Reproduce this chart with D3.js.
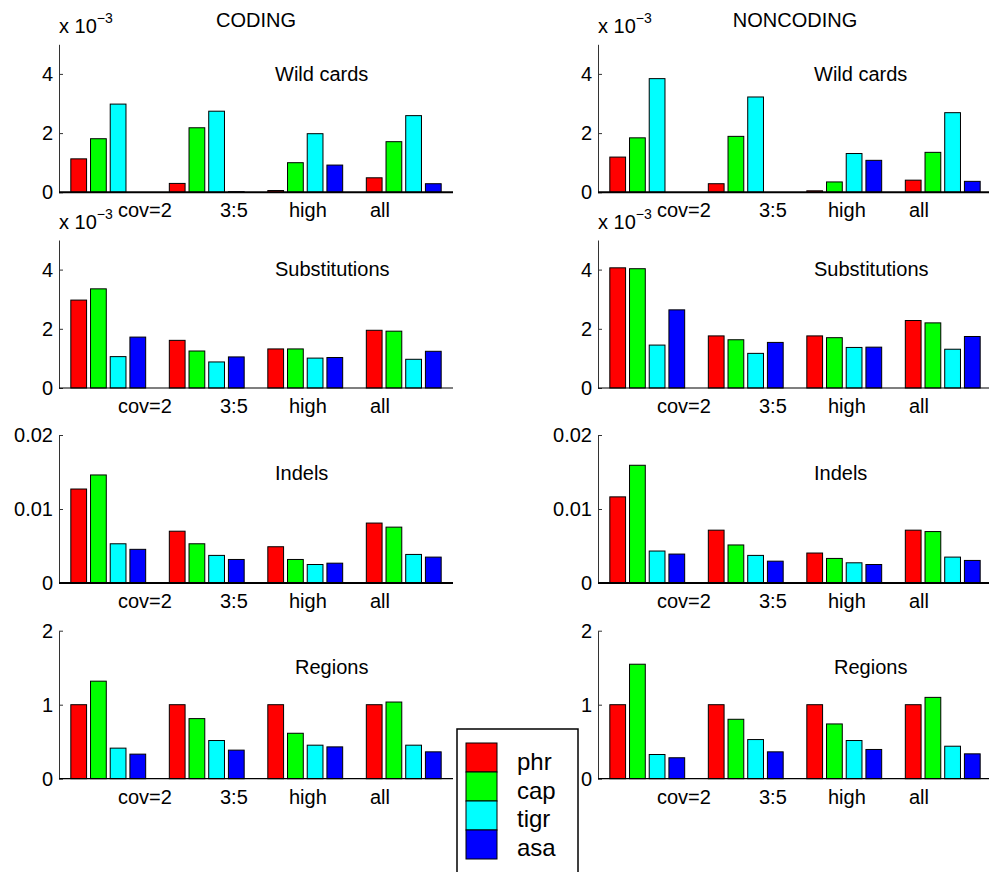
<!DOCTYPE html>
<html>
<head>
<meta charset="utf-8">
<script src="https://cdn.jsdelivr.net/npm/d3@7"></script>
<style>
  body { margin: 0; background: #fff; }
  svg { display: block; font-family: "Liberation Sans", Arial, Helvetica, sans-serif; }
</style>
</head>
<body>
<svg id="chart" width="989" height="872"></svg>
<script>
// ---- data ----
const groups = ["cov=2", "3:5", "high", "all"];
const series = ["phr", "cap", "tigr", "asa"];
const columns = ["CODING", "NONCODING"];
const panelTitles = ["Wild cards", "Substitutions", "Indels", "Regions"];

// one row per group, values for phr, cap, tigr, asa
const codingWild = [[1.13e-3, 1.81e-3, 2.98e-3, 0], [0.30e-3, 2.18e-3, 2.74e-3, 0.02e-3],
                    [0.06e-3, 1.00e-3, 1.98e-3, 0.92e-3], [0.49e-3, 1.71e-3, 2.59e-3, 0.29e-3]];
const noncodingWild = [[1.19e-3, 1.84e-3, 3.84e-3, 0], [0.29e-3, 1.89e-3, 3.22e-3, 0],
                       [0.05e-3, 0.35e-3, 1.31e-3, 1.08e-3], [0.41e-3, 1.35e-3, 2.69e-3, 0.37e-3]];
const codingSubst = [[2.97e-3, 3.35e-3, 1.06e-3, 1.72e-3], [1.61e-3, 1.25e-3, 0.88e-3, 1.05e-3],
                     [1.32e-3, 1.32e-3, 1.01e-3, 1.03e-3], [1.95e-3, 1.92e-3, 0.97e-3, 1.24e-3]];
const noncodingSubst = [[4.06e-3, 4.03e-3, 1.45e-3, 2.64e-3], [1.76e-3, 1.63e-3, 1.17e-3, 1.54e-3],
                        [1.76e-3, 1.70e-3, 1.37e-3, 1.38e-3], [2.28e-3, 2.20e-3, 1.31e-3, 1.74e-3]];
const codingIndels = [[0.0127, 0.0146, 0.0053, 0.00455], [0.0070, 0.0053, 0.00373, 0.00318],
                      [0.0049, 0.00318, 0.0025, 0.00268], [0.0081, 0.00755, 0.00386, 0.0035]];
const noncodingIndels = [[0.01164, 0.01591, 0.00432, 0.00391], [0.00714, 0.00514, 0.00373, 0.00295],
                         [0.00405, 0.00332, 0.00273, 0.0025], [0.00714, 0.00695, 0.0035, 0.00305]];
const codingRegions = [[1, 1.318, 0.413, 0.332], [1, 0.812, 0.516, 0.386],
                       [1, 0.614, 0.453, 0.43], [1, 1.036, 0.453, 0.363]];
const noncodingRegions = [[1, 1.547, 0.327, 0.283], [1, 0.803, 0.529, 0.363],
                          [1, 0.74, 0.516, 0.395], [1, 1.099, 0.439, 0.336]];

const yMax = [5e-3, 5e-3, 0.02, 2];
const yTicks = [[0, 2e-3, 4e-3], [0, 2e-3, 4e-3], [0, 0.01, 0.02], [0, 1, 2]];

// ---- layout ----
const svg = d3.select("#chart");
const colX = [59, 598];
const axW = 394;
const panelTop = [44.3, 240, 435, 630.7];
const panelH = 148;
const titleDx = [216, 216, 216, 236];
const titleDy = [36.7, 36, 45, 43.3];
const xLabelDx = [59, 161, 230, 311];   // left edge of group labels from axis origin

const color = d3.scaleOrdinal().domain(series).range(["#ff0000", "#00ff00", "#00ffff", "#0000ff"]);

const panelData = [
  [codingWild, codingSubst, codingIndels, codingRegions],
  [noncodingWild, noncodingSubst, noncodingIndels, noncodingRegions]
];

columns.forEach((colName, c) => {
  const x0 = colX[c];

  svg.append("text")
    .attr("x", x0 + axW / 2).attr("y", 26.7)
    .attr("text-anchor", "middle")
    .attr("font-size", 20)
    .text(colName);

  panelData[c].forEach((rows, p) => {
    const top = panelTop[p];
    const g = svg.append("g");

    const x = d3.scaleBand().domain(groups).range([x0, x0 + axW])
      .paddingInner(0.2).paddingOuter(0.1);
    const xs = d3.scaleBand().domain(series).range([0, x.bandwidth()])
      .paddingInner(0.2).paddingOuter(0.1);
    const y = d3.scaleLinear().domain([0, yMax[p]]).range([top + panelH, top]);

    // bars
    g.selectAll("g.grp")
      .data(rows)
      .join("g")
        .attr("class", "grp")
        .attr("transform", (d, i) => `translate(${x(groups[i])},0)`)
      .selectAll("rect")
      .data(d => d.map((v, s) => ({ v, s: series[s] })))
      .join("rect")
        .attr("x", d => xs(d.s))
        .attr("width", xs.bandwidth())
        .attr("y", d => y(d.v))
        .attr("height", d => y(0) - y(d.v))
        .attr("fill", d => color(d.s))
        .attr("stroke", "#000")
        .attr("stroke-width", 1);

    // y axis, ticks pointing inward
    const sci = yMax[p] < 0.01;
    const axis = d3.axisLeft(y)
      .tickValues(yTicks[p])
      .tickSizeInner(-4).tickSizeOuter(0)
      .tickPadding(6)
      .tickFormat(v => sci ? d3.format("d")(Math.round(v * 1e3)) : (v === 0 ? "0" : String(v)));

    const ax = g.append("g")
      .attr("transform", `translate(${x0},0)`)
      .call(axis);
    ax.select(".domain").attr("stroke", "#333");
    ax.selectAll(".tick line").attr("stroke", "#333");
    ax.selectAll(".tick text")
      .attr("font-size", 20)
      .attr("font-family", "Liberation Sans, Arial, Helvetica, sans-serif")
      .attr("fill", "#000");

    // baseline
    g.append("line")
      .attr("x1", x0).attr("x2", x0 + axW)
      .attr("y1", y(0)).attr("y2", y(0))
      .attr("stroke", "#000")
      .attr("stroke-width", (p === 0 || p === 2) ? 2 : 1.2);

    // exponent marker
    if (sci) {
      const ex = g.append("text")
        .attr("x", x0).attr("y", top - 11)
        .attr("font-size", 20);
      ex.append("tspan").text("x 10");
      ex.append("tspan").attr("font-size", 14).attr("dy", -10).text("\u22123");
    }

    // group labels
    g.selectAll("text.xl")
      .data(groups)
      .join("text")
        .attr("class", "xl")
        .attr("x", (d, i) => x0 + xLabelDx[i])
        .attr("y", y(0) + 25)
        .attr("font-size", 20)
        .text(d => d);

    // panel title
    g.append("text")
      .attr("x", x0 + titleDx[p])
      .attr("y", top + titleDy[p])
      .attr("font-size", 20)
      .text(panelTitles[p]);
  });
});

// ---- legend ----
const legend = svg.append("g").attr("transform", "translate(457,729)");
legend.append("rect")
  .attr("x", 0).attr("y", 0)
  .attr("width", 121).attr("height", 160)
  .attr("fill", "#fff").attr("stroke", "#000").attr("stroke-width", 1.5);

legend.selectAll("rect.sw")
  .data(series)
  .join("rect")
    .attr("class", "sw")
    .attr("x", 9).attr("y", (d, i) => 14 + i * 29)
    .attr("width", 31).attr("height", 29)
    .attr("fill", d => color(d))
    .attr("stroke", "#000").attr("stroke-width", 1);

legend.selectAll("text")
  .data(series)
  .join("text")
    .attr("x", 60).attr("y", (d, i) => 41 + i * 28.7)
    .attr("font-size", 24)
    .text(d => d);
</script>
</body>
</html>
